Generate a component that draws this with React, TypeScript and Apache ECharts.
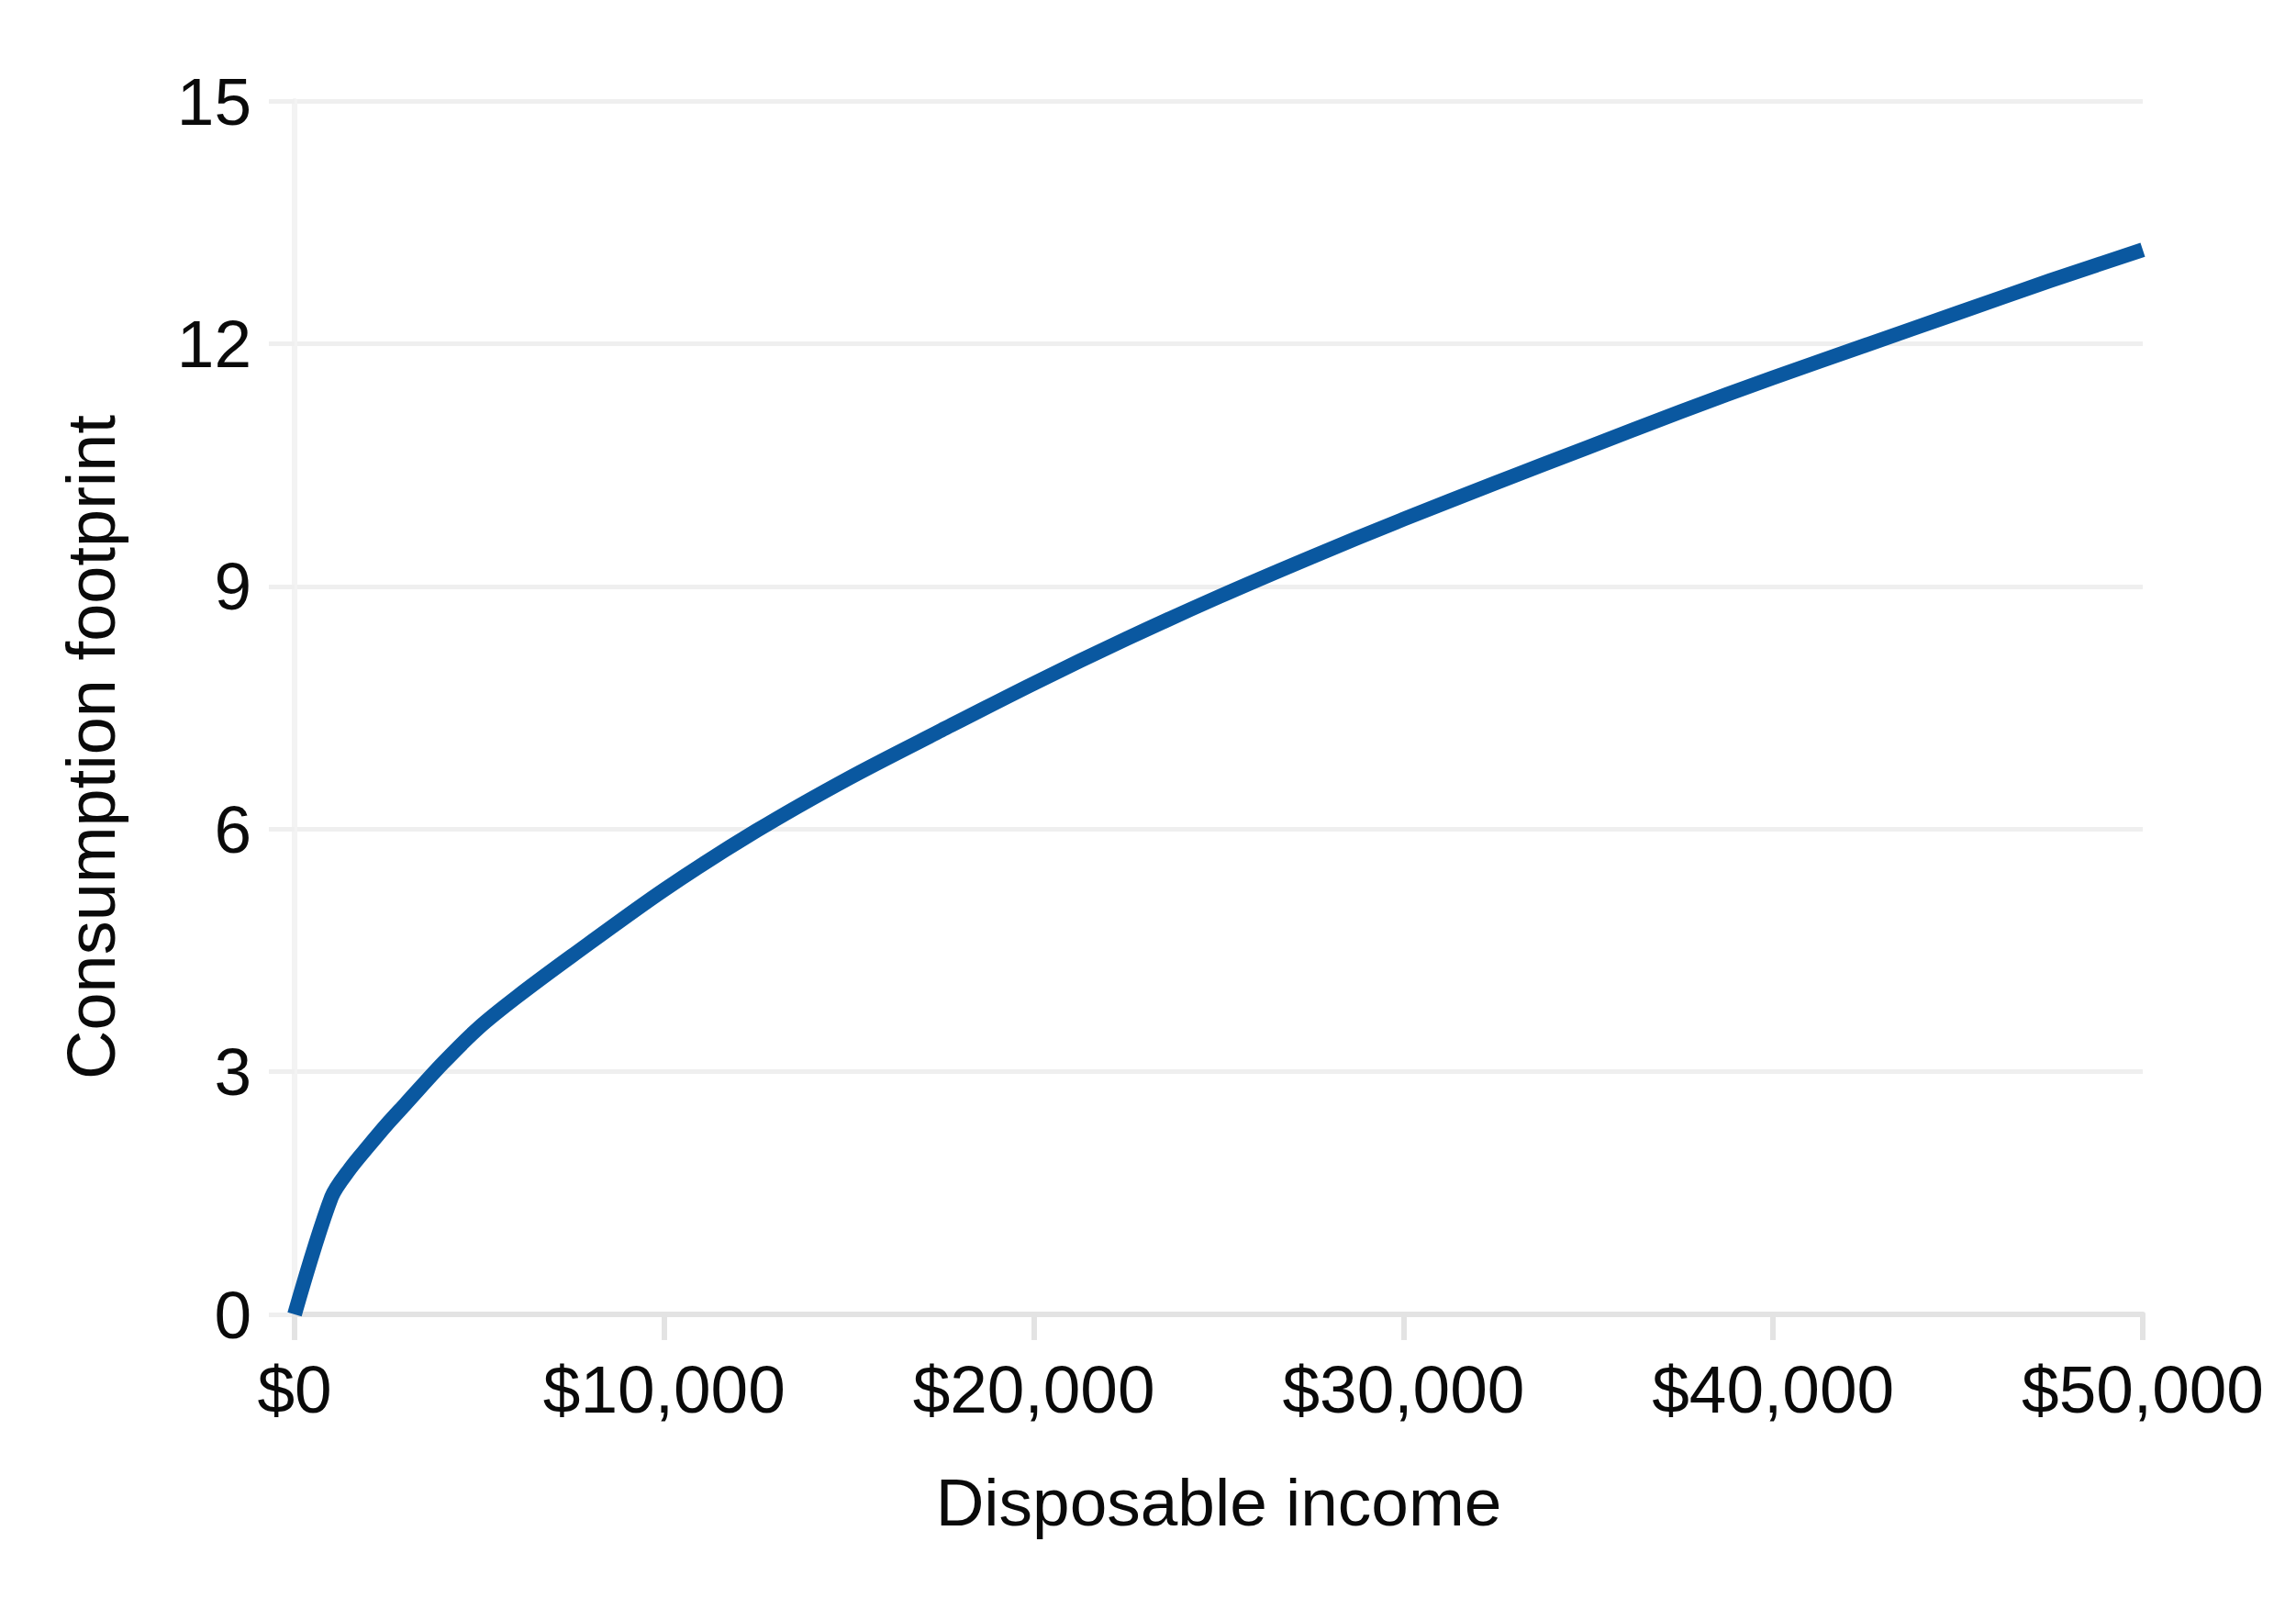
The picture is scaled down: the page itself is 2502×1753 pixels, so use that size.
import React, { useEffect, useRef } from "react";
import * as echarts from "echarts";

const incomeValues = [0, 1000, 1500, 2000, 2500, 3000, 4000, 5000, 6000, 7500, 10000, 12500, 15000, 17500, 20000, 22500, 25000, 27500, 30000, 32500, 35000, 37500, 40000, 42500, 45000, 47500, 50000];
const footprintValues = [0, 1.45, 1.8, 2.08, 2.35, 2.6, 3.1, 3.55, 3.92, 4.43, 5.25, 5.98, 6.63, 7.22, 7.8, 8.35, 8.87, 9.36, 9.83, 10.28, 10.72, 11.16, 11.58, 11.98, 12.38, 12.78, 13.16];

const xTickValues = [0, 10000, 20000, 30000, 40000, 50000];
const xTickLabels = ["$0", "$10,000", "$20,000", "$30,000", "$40,000", "$50,000"];
const yTickValues = [0, 3, 6, 9, 12, 15];

const xAxisTitle = "Disposable income";
const yAxisTitle = "Consumption footprint";

export default function App() {
  const ref = useRef<HTMLDivElement>(null);
  useEffect(() => {
    document.body.style.margin = "0";
    if (!ref.current) return;
    const chart = echarts.init(ref.current, null, { renderer: "svg" });
    const font = "Liberation Sans, Arial, Helvetica, sans-serif";
    const data = incomeValues.map((x, i) => [x, footprintValues[i]]);
    chart.setOption({
      animation: false,
      backgroundColor: "#ffffff",
      grid: { left: 321, right: 167, top: 110, bottom: 321, containLabel: false },
      xAxis: {
        type: "value",
        min: xTickValues[0],
        max: xTickValues[xTickValues.length - 1],
        interval: xTickValues[1] - xTickValues[0],
        axisLine: { show: true, lineStyle: { color: "#e3e3e3", width: 6 } },
        axisTick: { show: true, length: 28, lineStyle: { color: "#e3e3e3", width: 6 } },
        splitLine: { show: false },
        axisLabel: {
          margin: 45,
          fontSize: 73,
          fontFamily: font,
          color: "#0a0a0a",
          formatter: (v: number) => {
            const idx = xTickValues.indexOf(v);
            return idx >= 0 ? xTickLabels[idx] : "";
          },
        },
      },
      yAxis: {
        type: "value",
        min: yTickValues[0],
        max: yTickValues[yTickValues.length - 1],
        interval: yTickValues[1] - yTickValues[0],
        axisLine: { show: true, lineStyle: { color: "#f3f3f3", width: 6 } },
        axisTick: { show: true, length: 28, lineStyle: { color: "#efefef", width: 5 } },
        splitLine: { show: true, lineStyle: { color: "#efefef", width: 5 } },
        axisLabel: {
          margin: 47,
          fontSize: 73,
          fontFamily: font,
          color: "#0a0a0a",
        },
      },
      series: [
        {
          type: "line",
          data,
          showSymbol: false,
          symbol: "none",
          smooth: 0.3,
          lineStyle: { color: "#0a58a0", width: 16, cap: "butt", join: "round" },
          z: 5,
        },
      ],
      graphic: [
        {
          type: "text",
          x: 1328,
          y: 1636,
          style: {
            text: xAxisTitle,
            font: `73px ${font}`,
            fill: "#0a0a0a",
            textAlign: "center",
            textVerticalAlign: "middle",
          },
        },
        {
          type: "text",
          x: 99,
          y: 814,
          rotation: Math.PI / 2,
          style: {
            text: yAxisTitle,
            font: `74px ${font}`,
            fill: "#0a0a0a",
            textAlign: "center",
            textVerticalAlign: "middle",
          },
        },
      ],
    });
    return () => chart.dispose();
  }, []);
  return <div ref={ref} style={{ width: 2502, height: 1753 }} />;
}
